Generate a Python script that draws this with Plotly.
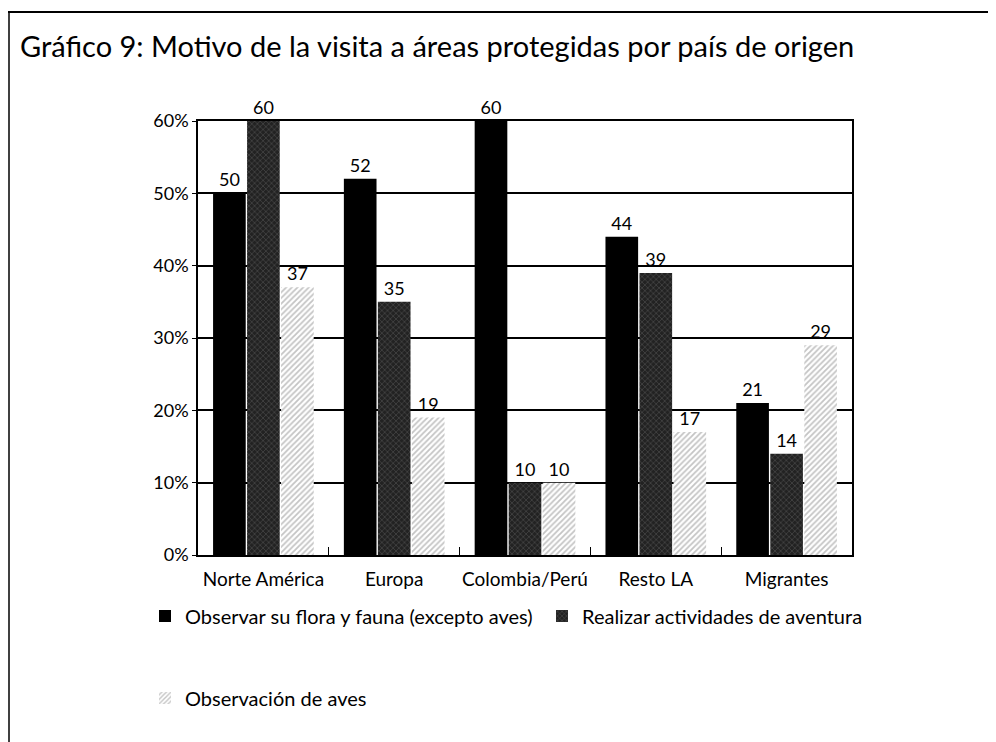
import plotly.graph_objects as go

categories = ["Norte América", "Europa", "Colombia/Perú", "Resto LA", "Migrantes"]
series_names = ["Observar su flora y fauna (excepto aves)",
                "Realizar actividades de aventura",
                "Observación de aves"]
flora_fauna = [50, 52, 60, 44, 21]
aventura = [60, 35, 10, 39, 14]
aves = [37, 19, 10, 17, 29]
y_ticks = [0, 10, 20, 30, 40, 50, 60]
y_tick_labels = ["0%", "10%", "20%", "30%", "40%", "50%", "60%"]

OFF = 8  # page body margin
W, H = 996 - OFF, 742 - OFF
L, R, T, B = 198 - OFF, 852 - OFF, 121 - OFF, 555 - OFF
def px(x): return (x - OFF - L) / (R - L)
def py(y): return (B - (y - OFF)) / (B - T)

FONT = "Lato"
fig = go.Figure()
fig.add_bar(x=categories, y=flora_fauna, name=series_names[0],
            marker=dict(color="black", line=dict(width=0)),
            text=flora_fauna, textposition="outside", cliponaxis=False,
            legend="legend")
fig.add_bar(x=categories, y=aventura, name=series_names[1],
            marker=dict(color="#2a2a2a", line=dict(width=0),
                        pattern=dict(shape="x", fgcolor="#8a8a8a", bgcolor="#222222",
                                     size=4, solidity=0.25)),
            text=aventura, textposition="outside", cliponaxis=False,
            legend="legend")
fig.add_bar(x=categories, y=aves, name=series_names[2],
            marker=dict(color="white", line=dict(width=0),
                        pattern=dict(shape="/", fgcolor="#8a8a8a", bgcolor="white",
                                     size=4, solidity=0.45)),
            text=aves, textposition="outside", cliponaxis=False,
            legend="legend2")

fig.update_traces(textfont=dict(size=18, color="black", family=FONT))

fig.update_layout(
    width=W, height=H,
    margin=dict(l=L, r=W - R, t=T, b=H - B),
    paper_bgcolor="white", plot_bgcolor="white",
    font=dict(family=FONT, color="black", size=18),
    barmode="group", bargap=0.22, bargroupgap=0.04,
    title=dict(text="Gráfico 9: Motivo de la visita a áreas protegidas por país de origen",
               x=(20 - OFF) / W, xanchor="left", y=1 - (47 - OFF) / H, yanchor="middle",
               font=dict(size=29, family=FONT, color="black")),
    xaxis=dict(showline=True, linecolor="black", linewidth=1.5, mirror=True,
               ticks="inside", tickson="boundaries", ticklen=8, tickcolor="black",
               tickangle=0, tickfont=dict(size=19), showgrid=False,
               ticklabelstandoff=6),
    yaxis=dict(range=[0, 60], tickvals=y_ticks, ticktext=y_tick_labels,
               showline=True, linecolor="black", linewidth=1.5, mirror=True,
               showgrid=True, gridcolor="black", gridwidth=1.5,
               ticks="outside", ticklen=4, tickcolor="black",
               tickfont=dict(size=18), zeroline=False),
    legend=dict(orientation="h", x=px(145), y=py(616), xanchor="left", yanchor="middle",
                entrywidth=352, font=dict(size=20), bgcolor="rgba(0,0,0,0)"),
    legend2=dict(orientation="h", x=px(145), y=py(698), xanchor="left", yanchor="middle",
                 font=dict(size=20), bgcolor="rgba(0,0,0,0)"),
)

# page frame lines (top and left)
fig.add_shape(type="line", xref="paper", yref="paper", x0=px(OFF), x1=px(996), y0=py(12), y1=py(12),
              line=dict(color="black", width=2))
fig.add_shape(type="line", xref="paper", yref="paper", x0=px(OFF + 1), x1=px(OFF + 1), y0=py(12), y1=py(742),
              line=dict(color="black", width=1.5))

fig.write_html("out.html")
